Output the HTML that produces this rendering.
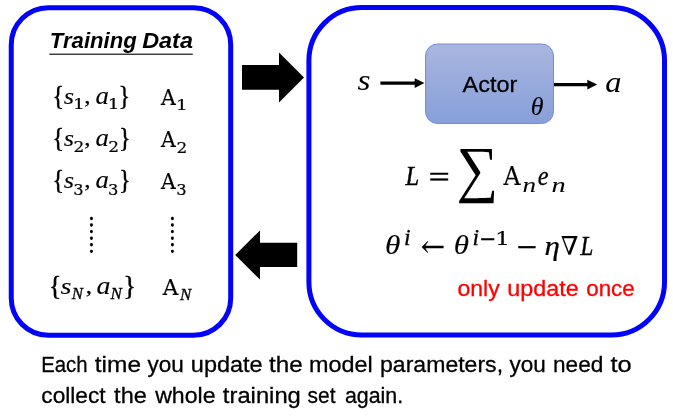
<!DOCTYPE html>
<html lang="en">
<head>
<meta charset="utf-8">
<title>Training Data / Actor update</title>
<style>
html,body{margin:0;padding:0;background:#fff;}
body{width:673px;height:416px;overflow:hidden;position:relative;}
svg{display:block;position:absolute;left:0;top:0;will-change:transform;}
.sans{font-family:"Liberation Sans",sans-serif;}
</style>
</head>
<body>
<svg width="673" height="416" viewBox="0 0 673 416">
<defs>
<linearGradient id="ag" x1="0" y1="0" x2="0" y2="1">
<stop offset="0" stop-color="#a9b6df"/>
<stop offset="1" stop-color="#879fda"/>
</linearGradient>
</defs>
<rect x="0" y="0" width="673" height="416" fill="#ffffff"/>

<!-- boxes -->
<rect x="11.25" y="7.7" width="219.45" height="327.5" rx="37" ry="37" fill="none" stroke="#0303fa" stroke-width="5"/>
<rect x="308.9" y="7.6" width="355.6" height="327.5" rx="53" ry="53" fill="none" stroke="#0303fa" stroke-width="5"/>

<!-- block arrows -->
<polygon points="242,64.9 279,64.9 279,52.5 304,77.5 279,102.5 279,89.8 242,89.8" fill="#000"/>
<polygon points="297.2,242.7 260,242.7 260,230.4 235.2,255 260,279.6 260,267.1 297.2,267.1" fill="#000"/>

<!-- title -->
<text class="sans" y="47.6" font-size="21.8" fill="#000" font-weight="bold" font-style="italic"><tspan x="49.89" textLength="86.83" lengthAdjust="spacingAndGlyphs">Training</tspan> <tspan x="142.20" textLength="50.73" lengthAdjust="spacingAndGlyphs">Data</tspan></text>
<rect x="49.3" y="53.6" width="143.5" height="1.3" fill="#262626"/>

<!-- rows -->
<text font-family="'Liberation Serif', serif" font-size="28.03" fill="#000" stroke="#000" stroke-width="0.4" transform="translate(52.25,105.00) scale(0.885,1)">{</text>
<text font-family="'Liberation Serif', serif" font-style="italic" font-size="23.74" fill="#000" stroke="#000" stroke-width="0.08" transform="translate(63.72,104.00) scale(1.120,1)">s</text>
<text font-family="'DejaVu Serif', serif" font-size="14.15" fill="#000" stroke="#000" stroke-width="0.2" transform="translate(72.94,109.00) scale(1.311,1)">1</text>
<text font-family="'Liberation Serif', serif" font-size="20.83" fill="#000" stroke="#000" stroke-width="0.25" transform="translate(84.27,103.00) scale(1.209,1)">,</text>
<text font-family="'Liberation Serif', serif" font-style="italic" font-size="24.78" fill="#000" stroke="#000" stroke-width="0.08" transform="translate(95.44,104.00) scale(1.084,1)">a</text>
<text font-family="'DejaVu Serif', serif" font-size="14.15" fill="#000" stroke="#000" stroke-width="0.2" transform="translate(107.64,109.00) scale(1.311,1)">1</text>
<text font-family="'Liberation Serif', serif" font-size="28.03" fill="#000" stroke="#000" stroke-width="0.4" transform="translate(118.48,105.00) scale(0.873,1)">}</text>
<text font-family="'DejaVu Serif', serif" font-size="22.08" fill="#000" stroke="#000" stroke-width="0.2" transform="translate(161.12,105.00) scale(0.927,1)">A</text>
<text font-family="'DejaVu Serif', serif" font-size="14.15" fill="#000" stroke="#000" stroke-width="0.2" transform="translate(175.94,110.00) scale(1.311,1)">1</text>
<text font-family="'Liberation Serif', serif" font-size="28.03" fill="#000" stroke="#000" stroke-width="0.4" transform="translate(52.25,147.00) scale(0.885,1)">{</text>
<text font-family="'Liberation Serif', serif" font-style="italic" font-size="23.74" fill="#000" stroke="#000" stroke-width="0.08" transform="translate(63.72,146.00) scale(1.120,1)">s</text>
<text font-family="'DejaVu Serif', serif" font-size="15.09" fill="#000" stroke="#000" stroke-width="0.2" transform="translate(73.45,152.00) scale(1.127,1)">2</text>
<text font-family="'Liberation Serif', serif" font-size="20.83" fill="#000" stroke="#000" stroke-width="0.25" transform="translate(84.27,145.00) scale(1.209,1)">,</text>
<text font-family="'Liberation Serif', serif" font-style="italic" font-size="24.78" fill="#000" stroke="#000" stroke-width="0.08" transform="translate(95.44,146.00) scale(1.084,1)">a</text>
<text font-family="'DejaVu Serif', serif" font-size="15.09" fill="#000" stroke="#000" stroke-width="0.2" transform="translate(108.15,152.00) scale(1.127,1)">2</text>
<text font-family="'Liberation Serif', serif" font-size="28.03" fill="#000" stroke="#000" stroke-width="0.4" transform="translate(118.98,147.00) scale(0.873,1)">}</text>
<text font-family="'DejaVu Serif', serif" font-size="22.08" fill="#000" stroke="#000" stroke-width="0.2" transform="translate(161.12,147.00) scale(0.927,1)">A</text>
<text font-family="'DejaVu Serif', serif" font-size="15.09" fill="#000" stroke="#000" stroke-width="0.2" transform="translate(176.45,153.00) scale(1.127,1)">2</text>
<text font-family="'Liberation Serif', serif" font-size="28.03" fill="#000" stroke="#000" stroke-width="0.4" transform="translate(52.25,189.00) scale(0.885,1)">{</text>
<text font-family="'Liberation Serif', serif" font-style="italic" font-size="23.74" fill="#000" stroke="#000" stroke-width="0.08" transform="translate(63.72,188.00) scale(1.120,1)">s</text>
<text font-family="'DejaVu Serif', serif" font-size="15.34" fill="#000" stroke="#000" stroke-width="0.2" transform="translate(73.36,195.00) scale(1.060,1)">3</text>
<text font-family="'Liberation Serif', serif" font-size="20.83" fill="#000" stroke="#000" stroke-width="0.25" transform="translate(84.27,187.00) scale(1.209,1)">,</text>
<text font-family="'Liberation Serif', serif" font-style="italic" font-size="24.78" fill="#000" stroke="#000" stroke-width="0.08" transform="translate(95.44,188.00) scale(1.084,1)">a</text>
<text font-family="'DejaVu Serif', serif" font-size="15.34" fill="#000" stroke="#000" stroke-width="0.2" transform="translate(108.06,195.00) scale(1.060,1)">3</text>
<text font-family="'Liberation Serif', serif" font-size="28.03" fill="#000" stroke="#000" stroke-width="0.4" transform="translate(118.98,189.00) scale(0.873,1)">}</text>
<text font-family="'DejaVu Serif', serif" font-size="22.08" fill="#000" stroke="#000" stroke-width="0.2" transform="translate(161.12,189.00) scale(0.927,1)">A</text>
<text font-family="'DejaVu Serif', serif" font-size="15.34" fill="#000" stroke="#000" stroke-width="0.2" transform="translate(176.36,195.00) scale(1.060,1)">3</text>
<text font-family="'Liberation Serif', serif" font-size="28.03" fill="#000" stroke="#000" stroke-width="0.4" transform="translate(48.80,295.00) scale(0.945,1)">{</text>
<text font-family="'Liberation Serif', serif" font-style="italic" font-size="23.74" fill="#000" stroke="#000" stroke-width="0.08" transform="translate(60.50,294.00) scale(1.181,1)">s</text>
<text font-family="'Liberation Serif', serif" font-style="italic" font-size="16.04" fill="#000" stroke="#000" stroke-width="0.3" transform="translate(71.87,299.00) scale(1.047,1)">N</text>
<text font-family="'Liberation Serif', serif" font-size="20.83" fill="#000" stroke="#000" stroke-width="0.25" transform="translate(85.87,293.00) scale(1.209,1)">,</text>
<text font-family="'Liberation Serif', serif" font-style="italic" font-size="24.78" fill="#000" stroke="#000" stroke-width="0.08" transform="translate(96.61,294.00) scale(1.130,1)">a</text>
<text font-family="'Liberation Serif', serif" font-style="italic" font-size="16.04" fill="#000" stroke="#000" stroke-width="0.3" transform="translate(110.38,299.00) scale(1.064,1)">N</text>
<text font-family="'Liberation Serif', serif" font-size="28.03" fill="#000" stroke="#000" stroke-width="0.4" transform="translate(123.16,295.00) scale(0.957,1)">}</text>
<text font-family="'DejaVu Serif', serif" font-size="22.08" fill="#000" stroke="#000" stroke-width="0.2" transform="translate(162.83,295.00) scale(0.976,1)">A</text>
<text font-family="'Liberation Serif', serif" font-style="italic" font-size="16.04" fill="#000" stroke="#000" stroke-width="0.3" transform="translate(179.97,300.00) scale(1.047,1)">N</text>
<line x1="91.45" y1="218.2" x2="91.45" y2="252" stroke="#000" stroke-width="2.9" stroke-linecap="round" stroke-dasharray="0.5 6.08"/>
<line x1="172.4" y1="218.2" x2="172.4" y2="252" stroke="#000" stroke-width="2.9" stroke-linecap="round" stroke-dasharray="0.5 6.08"/>

<!-- actor diagram -->
<rect x="425.5" y="44" width="128" height="79.5" rx="12" ry="12" fill="url(#ag)" stroke="#738fd2" stroke-width="1"/>
<text class="sans" x="462.6" y="91.5" font-size="22.7" textLength="54.8" lengthAdjust="spacingAndGlyphs" fill="#000" stroke="#000" stroke-width="0.3">Actor</text>
<text font-family="'Liberation Serif', serif" font-style="italic" font-size="30.15" fill="#000" transform="translate(357.39,90.00) scale(1.110,1)">s</text>
<text font-family="'Liberation Serif', serif" font-style="italic" font-size="29.73" fill="#000" transform="translate(605.23,92.00) scale(1.096,1)">a</text>
<text font-family="'Liberation Serif', serif" font-style="italic" font-size="25.39" fill="#000" stroke="#000" stroke-width="0.1" transform="translate(530.68,115.00) scale(1.025,1)">θ</text>
<line x1="380.4" y1="83.1" x2="416" y2="83.1" stroke="#000" stroke-width="3.2"/>
<polygon points="414.7,78.3 424.4,83.1 414.7,87.9" fill="#000"/>
<line x1="554" y1="84.6" x2="589" y2="84.6" stroke="#000" stroke-width="3.2"/>
<polygon points="587.3,79.8 597.2,84.6 587.3,89.4" fill="#000"/>

<!-- formula 1 -->
<text font-family="'Liberation Serif', serif" font-style="italic" font-size="27.72" fill="#000" stroke="#000" stroke-width="0.45" transform="translate(405.61,185.00) scale(0.884,1)">L</text>
<text font-family="'Liberation Serif', serif" font-size="28.80" fill="#000" stroke="#000" stroke-width="0.5" transform="translate(428.80,187.00) scale(1.291,1)">=</text>
<text font-family="'Liberation Serif', serif" font-size="62.70" fill="#000" transform="translate(456.57,190.00) scale(0.933,1)">∑</text>
<text font-family="'DejaVu Serif', serif" font-size="25.51" fill="#000" stroke="#000" stroke-width="0.2" transform="translate(503.44,185.00) scale(0.924,1)">A</text>
<text font-family="'Liberation Serif', serif" font-style="italic" font-size="20.06" fill="#000" stroke="#000" stroke-width="0.05" transform="translate(522.46,192.00) scale(1.350,1)">n</text>
<text font-family="'Liberation Serif', serif" font-style="italic" font-size="27.76" fill="#000" stroke="#000" stroke-width="0.25" transform="translate(537.87,185.00) scale(0.881,1)">e</text>
<text font-family="'Liberation Serif', serif" font-style="italic" font-size="20.06" fill="#000" stroke="#000" stroke-width="0.05" transform="translate(551.62,192.00) scale(1.409,1)">n</text>

<!-- formula 2 -->
<text font-family="'Liberation Serif', serif" font-style="italic" font-size="27.36" fill="#000" stroke="#000" stroke-width="0.1" transform="translate(385.02,254.00) scale(1.143,1)">θ</text>
<text font-family="'Liberation Serif', serif" font-style="italic" font-size="23.71" fill="#000" stroke="#000" stroke-width="0.3" x="404.05" y="245.00">i</text>
<text font-family="'DejaVu Serif', serif" font-size="27.80" fill="#000" stroke="#000" stroke-width="0.35" transform="translate(420.70,256.00) scale(1.042,1)">←</text>
<text font-family="'Liberation Serif', serif" font-style="italic" font-size="27.36" fill="#000" stroke="#000" stroke-width="0.1" transform="translate(453.63,254.00) scale(1.134,1)">θ</text>
<text font-family="'Liberation Serif', serif" font-style="italic" font-size="23.71" fill="#000" stroke="#000" stroke-width="0.3" x="472.55" y="245.00">i</text>
<text font-family="'Liberation Serif', serif" font-size="32.13" fill="#000" stroke="#000" stroke-width="0.4" transform="translate(479.83,250.00) scale(0.856,1)">−</text>
<text font-family="'DejaVu Serif', serif" font-size="17.85" fill="#000" stroke="#000" stroke-width="0.15" transform="translate(494.97,245.00) scale(1.332,1)">1</text>
<text font-family="'Liberation Serif', serif" font-size="38.15" fill="#000" stroke="#000" stroke-width="0.5" transform="translate(516.76,260.00) scale(0.941,1)">−</text>
<text font-family="'Liberation Serif', serif" font-style="italic" font-size="28.27" fill="#000" stroke="#000" stroke-width="0.25" transform="translate(544.42,255.00) scale(1.094,1)">η</text>
<text font-family="'DejaVu Serif', serif" font-size="25.65" fill="#000" transform="translate(560.67,255.00) scale(0.990,1)">∇</text>
<text font-family="'Liberation Serif', serif" font-style="italic" font-size="27.57" fill="#000" stroke="#000" stroke-width="0.45" transform="translate(580.49,255.00) scale(0.833,1)">L</text>

<text class="sans" y="296" font-size="22.7" fill="#ff0000" stroke="#ff0000" stroke-width="0.3"><tspan x="457.47" textLength="42.29" lengthAdjust="spacingAndGlyphs">only</tspan> <tspan x="507.39" textLength="71.32" lengthAdjust="spacingAndGlyphs">update</tspan> <tspan x="586.20" textLength="48.50" lengthAdjust="spacingAndGlyphs">once</tspan></text>

<!-- caption -->
<text class="sans" y="372" font-size="22.7" fill="#000" stroke="#000" stroke-width="0.3"><tspan x="41.21" textLength="46.39" lengthAdjust="spacingAndGlyphs">Each</tspan> <tspan x="94.83" textLength="46.17" lengthAdjust="spacingAndGlyphs">time</tspan> <tspan x="147.41" textLength="36.31" lengthAdjust="spacingAndGlyphs">you</tspan> <tspan x="190.86" textLength="71.81" lengthAdjust="spacingAndGlyphs">update</tspan> <tspan x="269.11" textLength="33.63" lengthAdjust="spacingAndGlyphs">the</tspan> <tspan x="309.13" textLength="63.67" lengthAdjust="spacingAndGlyphs">model</tspan> <tspan x="380.05" textLength="123.01" lengthAdjust="spacingAndGlyphs">parameters,</tspan> <tspan x="509.57" textLength="36.31" lengthAdjust="spacingAndGlyphs">you</tspan> <tspan x="553.06" textLength="50.26" lengthAdjust="spacingAndGlyphs">need</tspan> <tspan x="610.49" textLength="21.14" lengthAdjust="spacingAndGlyphs">to</tspan></text>
<text class="sans" y="403" font-size="22.7" fill="#000" stroke="#000" stroke-width="0.3"><tspan x="41.32" textLength="64.26" lengthAdjust="spacingAndGlyphs">collect</tspan> <tspan x="114.13" textLength="32.71" lengthAdjust="spacingAndGlyphs">the</tspan> <tspan x="155.17" textLength="60.39" lengthAdjust="spacingAndGlyphs">whole</tspan> <tspan x="222.88" textLength="77.98" lengthAdjust="spacingAndGlyphs">training</tspan> <tspan x="307.47" textLength="28.00" lengthAdjust="spacingAndGlyphs">set</tspan> <tspan x="344.96" textLength="58.24" lengthAdjust="spacingAndGlyphs">again.</tspan></text>
</svg>
</body>
</html>
